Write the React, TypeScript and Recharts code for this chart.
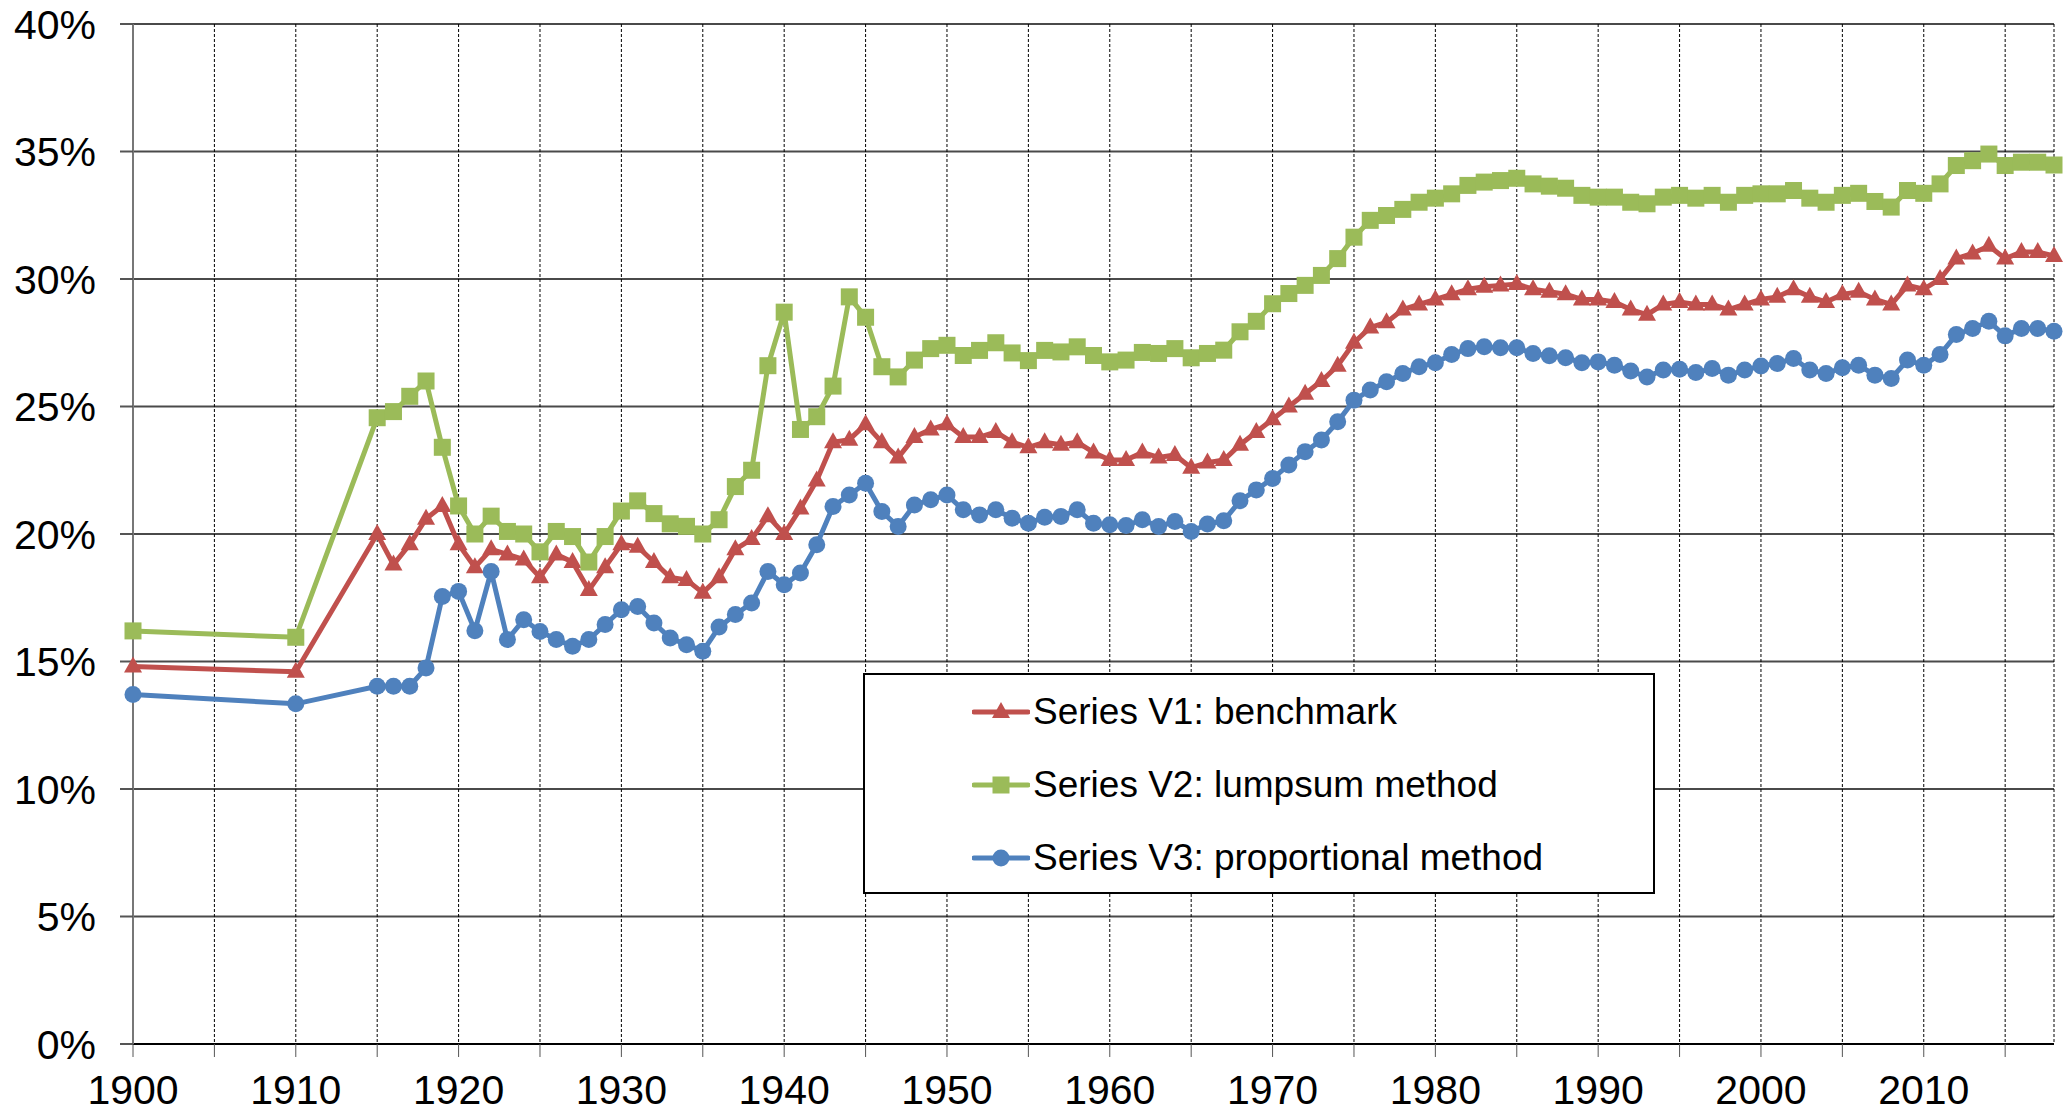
import React from "react"
import { LineChart, Line, XAxis, YAxis, CartesianGrid } from "recharts"

// years: two early benchmarks, then annual from 1915
const years = [
  1900, 1910,
  1915, 1916, 1917, 1918, 1919, 1920, 1921, 1922, 1923, 1924,
  1925, 1926, 1927, 1928, 1929, 1930, 1931, 1932, 1933, 1934,
  1935, 1936, 1937, 1938, 1939, 1940, 1941, 1942, 1943, 1944,
  1945, 1946, 1947, 1948, 1949, 1950, 1951, 1952, 1953, 1954,
  1955, 1956, 1957, 1958, 1959, 1960, 1961, 1962, 1963, 1964,
  1965, 1966, 1967, 1968, 1969, 1970, 1971, 1972, 1973, 1974,
  1975, 1976, 1977, 1978, 1979, 1980, 1981, 1982, 1983, 1984,
  1985, 1986, 1987, 1988, 1989, 1990, 1991, 1992, 1993, 1994,
  1995, 1996, 1997, 1998, 1999, 2000, 2001, 2002, 2003, 2004,
  2005, 2006, 2007, 2008, 2009, 2010, 2011, 2012, 2013, 2014,
  2015, 2016, 2017, 2018,
]

// Series V1: benchmark (%)
const benchmark = [
  14.8, 14.6,
  20.0, 18.8, 19.6, 20.6, 21.1, 19.6, 18.7, 19.4, 19.2, 19.0,
  18.3, 19.2, 18.9, 17.8, 18.7, 19.6, 19.5, 18.9, 18.3, 18.2,
  17.7, 18.3, 19.4, 19.8, 20.7, 20.0, 21.0, 22.1, 23.6, 23.7,
  24.3, 23.6, 23.0, 23.8, 24.1, 24.3, 23.8, 23.8, 24.0, 23.6,
  23.4, 23.6, 23.5, 23.6, 23.2, 22.9, 22.9, 23.2, 23.0, 23.1,
  22.6, 22.8, 22.9, 23.5, 24.0, 24.5, 25.0, 25.5, 26.0, 26.6,
  27.5, 28.1, 28.3, 28.8, 29.0, 29.2, 29.4, 29.6, 29.7, 29.75,
  29.8, 29.6, 29.5, 29.4, 29.2, 29.2, 29.1, 28.8, 28.6, 29.0,
  29.1, 29.0, 29.0, 28.8, 29.0, 29.2, 29.3, 29.6, 29.3, 29.1,
  29.4, 29.5, 29.2, 29.0, 29.75, 29.6, 30.0, 30.8, 31.0, 31.3,
  30.8, 31.06, 31.06, 30.9,
]

// Series V2: lumpsum method (%)
const lumpsum = [
  16.2, 15.95,
  24.56, 24.8, 25.4, 26.0, 23.4, 21.1, 20.0, 20.7, 20.1, 20.0,
  19.3, 20.1, 19.9, 18.9, 19.9, 20.9, 21.3, 20.8, 20.4, 20.3,
  20.0, 20.56, 21.86, 22.5, 26.6, 28.7, 24.1, 24.6, 25.8, 29.3,
  28.5, 26.56, 26.16, 26.82, 27.27, 27.4, 27.0, 27.2, 27.5, 27.1,
  26.8, 27.2, 27.14, 27.34, 27.0, 26.75, 26.82, 27.12, 27.08, 27.27,
  26.91, 27.08, 27.21, 27.93, 28.34, 29.03, 29.43, 29.75, 30.14, 30.8,
  31.64, 32.3, 32.49, 32.73, 33.01, 33.17, 33.34, 33.67, 33.8, 33.86,
  33.95, 33.73, 33.64, 33.56, 33.28, 33.21, 33.21, 33.01, 32.95, 33.21,
  33.28, 33.17, 33.28, 33.01, 33.28, 33.34, 33.34, 33.47, 33.17, 33.01,
  33.28, 33.36, 33.04, 32.82, 33.47, 33.36, 33.73, 34.45, 34.64, 34.9,
  34.45, 34.58, 34.58, 34.47,
]

// Series V3: proportional method (%)
const proportional = [
  13.71, 13.34,
  14.03, 14.03, 14.03, 14.75, 17.55, 17.75, 16.21, 18.53, 15.86, 16.64,
  16.18, 15.86, 15.6, 15.86, 16.45, 17.03, 17.16, 16.51, 15.92, 15.66,
  15.4, 16.35, 16.84, 17.29, 18.53, 18.01, 18.47, 19.58, 21.08, 21.53,
  21.99, 20.88, 20.29, 21.14, 21.34, 21.53, 20.95, 20.75, 20.95, 20.62,
  20.42, 20.66, 20.69, 20.95, 20.42, 20.36, 20.33, 20.56, 20.29, 20.49,
  20.1, 20.39, 20.52, 21.3, 21.73, 22.18, 22.71, 23.23, 23.69, 24.4,
  25.25, 25.65, 25.97, 26.29, 26.56, 26.72, 27.04, 27.27, 27.34, 27.3,
  27.3, 27.08, 26.99, 26.91, 26.72, 26.75, 26.62, 26.39, 26.16, 26.43,
  26.46, 26.33, 26.49, 26.23, 26.43, 26.59, 26.69, 26.88, 26.43, 26.29,
  26.52, 26.62, 26.23, 26.1, 26.82, 26.62, 27.04, 27.82, 28.06, 28.34,
  27.77, 28.06, 28.06, 27.95,
]

const xTicks = [1900, 1905, 1910, 1915, 1920, 1925, 1930, 1935, 1940, 1945, 1950, 1955, 1960, 1965, 1970, 1975, 1980, 1985, 1990, 1995, 2000, 2005, 2010, 2015]
const yTicks = [0, 5, 10, 15, 20, 25, 30, 35, 40]

const data = years.map((year, i) => ({
  year,
  v1: benchmark[i],
  v2: lumpsum[i],
  v3: proportional[i],
}))

const FONT = "'Liberation Sans', Arial, sans-serif"
const RED = "#C0504D"
const GREEN = "#9BBB59"
const BLUE = "#4F81BD"

type Shape = "triangle" | "square" | "circle"

function marker(shape: Shape, color: string, cx: number, cy: number, key?: string | number) {
  if (shape === "triangle") {
    return <polygon key={key} points={`${cx},${cy - 10} ${cx + 9},${cy + 6} ${cx - 9},${cy + 6}`} fill={color} />
  }
  if (shape === "square") {
    return <rect key={key} x={cx - 8.5} y={cy - 8.5} width={17} height={17} fill={color} />
  }
  return <circle key={key} cx={cx} cy={cy} r={8.5} fill={color} />
}

const dotFor = (shape: Shape, color: string) => (props: any) => {
  const { cx, cy, index } = props
  if (cx == null || cy == null) return <g key={index} />
  return marker(shape, color, cx, cy, index)
}

const series = [
  { key: "v1", name: "Series V1: benchmark", color: RED, shape: "triangle" as Shape },
  { key: "v2", name: "Series V2: lumpsum method", color: GREEN, shape: "square" as Shape },
  { key: "v3", name: "Series V3: proportional method", color: BLUE, shape: "circle" as Shape },
]

export default function App() {
  return (
    <div style={{ position: "absolute", left: 0, top: 0, width: 2065, height: 1115, background: "#fff", fontFamily: FONT }}>
      <LineChart width={2065} height={1115} data={data} margin={{ top: 24, right: 11, bottom: 0, left: 0 }}>
        <CartesianGrid vertical={false} stroke="#4a4a4a" strokeWidth={2} />
        <CartesianGrid horizontal={false} stroke="#000" strokeWidth={1} strokeDasharray="3 2" />
        <XAxis
          type="number"
          dataKey="year"
          domain={[1900, 2018]}
          ticks={xTicks}
          interval={0}
          tickFormatter={(v: number) => (v % 10 === 0 ? String(v) : "")}
          height={71}
          tickSize={13}
          tickMargin={18}
          tick={{ fontSize: 41, fill: "#000", fontFamily: FONT }}
          tickLine={{ stroke: "#555" }}
          axisLine={{ stroke: "#000", strokeWidth: 2 }}
        />
        <YAxis
          type="number"
          domain={[0, 40]}
          ticks={yTicks}
          interval={0}
          width={133}
          tickFormatter={(v: number) => `${v}%`}
          tickSize={13}
          tickMargin={24}
          tick={{ fontSize: 41, fill: "#000", fontFamily: FONT }}
          tickLine={{ stroke: "#555", strokeWidth: 2 }}
          axisLine={{ stroke: "#777", strokeWidth: 2 }}
        />
        {series.map((s) => (
          <Line
            key={s.key}
            type="linear"
            dataKey={s.key}
            name={s.name}
            stroke={s.color}
            strokeWidth={5}
            dot={dotFor(s.shape, s.color)}
            activeDot={false}
            isAnimationActive={false}
          />
        ))}
      </LineChart>
      <div
        style={{
          position: "absolute",
          left: 863,
          top: 673,
          width: 792,
          height: 221,
          boxSizing: "border-box",
          border: "2px solid #000",
          background: "#fff",
          paddingLeft: 107,
        }}
      >
        {series.map((s) => (
          <div key={s.key} style={{ height: 73, display: "flex", alignItems: "center" }}>
            <svg width={58} height={24} style={{ marginRight: 3 }}>
              <line x1={2} y1={12} x2={56} y2={12} stroke={s.color} strokeWidth={5} strokeLinecap="round" />
              {marker(s.shape, s.color, 29, 12)}
            </svg>
            <span style={{ fontSize: 37, color: "#000", fontFamily: FONT, whiteSpace: "nowrap" }}>{s.name}</span>
          </div>
        ))}
      </div>
    </div>
  )
}
